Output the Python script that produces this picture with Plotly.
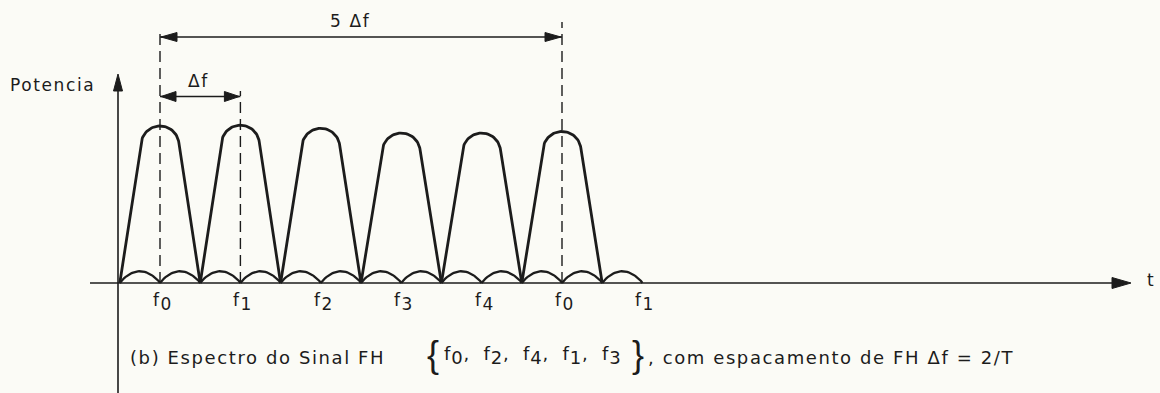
import numpy as np
import plotly.graph_objects as go

# ---------------- data ----------------
# hop carriers, position in units of the hop spacing Δf (f0 at 0)
carrier_pos = [0, 1, 2, 3, 4, 5]
# normalised main-lobe power at each carrier
carrier_peak = [1.00, 1.005, 0.985, 0.955, 0.955, 0.965]
# side-lobe arches (centre position, normalised power)
sidelobe_pos = [-0.25, 0.25, 0.75, 1.25, 1.75, 2.25, 2.75, 3.25, 3.75, 4.25, 4.75, 5.25, 5.75]
sidelobe_peak = [0.075, 0.075, 0.075, 0.075, 0.075, 0.075, 0.075,
                 0.075, 0.075, 0.075, 0.075, 0.075, 0.075]
# frequency tick labels along the axis
tick_pos = [0, 1, 2, 3, 4, 5, 6]
tick_sub = ["0", "1", "2", "3", "4", "0", "1"]
# hopping sequence quoted in the caption
hop_sequence = ["0", "2", "4", "1", "3"]
# dimension markers: (start, end) in Δf units
span_df = (0, 1)
span_5df = (0, 5)

# ---------------- frame geometry (pixels) ----------------
W_PX, H_PX = 1160, 393
X0_PX, PX_PER_X = 160.0, 80.4      # pixel column of f0, pixels per Δf
Y0_PX, PX_PER_Y = 283.0, 157.0     # pixel row of the frequency axis, pixels per power unit

INK = "#1c1c1c"
PAPER = "#fbfbf6"
FONT = "DejaVu Sans"


def dx(px):
    return (px - X0_PX) / PX_PER_X


def dy(py):
    return (Y0_PX - py) / PX_PER_Y


def main_lobe(c, h, half=0.5, r_px=19.0):
    """Rounded-top lobe with straight flanks, drawn in pixel space."""
    W = half * PX_PER_X
    H = h * PX_PER_Y
    r = r_px
    d = H - r
    a = W * W - r * r
    b = -2 * W * W * d
    cc = W * W * d * d - r * r * W * W
    A = (-b + np.sqrt(b * b - 4 * a * cc)) / (2 * a)
    L = np.hypot(A, W)
    tx, ty = r * A / L, d + r * W / L
    phi = np.arctan2(ty - d, tx)
    ang = np.linspace(np.pi - phi, phi, 40)
    xs = np.concatenate([[-W], r * np.cos(ang), [W]])
    ys = np.concatenate([[0], d + r * np.sin(ang), [0]])
    return c + xs / PX_PER_X, ys / PX_PER_Y


def side_lobe(c, h, half=0.25):
    v = np.linspace(0, 1, 30)
    return c - half + 2 * half * v, h * np.sin(np.pi * v) ** 0.8


def arrowhead(tip_px, direction, length=16, width=9):
    """Filled triangular arrowhead as an SVG path in data coordinates."""
    x, y = tip_px
    if direction == "right":
        pts = [(x, y), (x - length, y - width / 2), (x - length, y + width / 2)]
    elif direction == "left":
        pts = [(x, y), (x + length, y - width / 2), (x + length, y + width / 2)]
    else:  # up
        pts = [(x, y), (x - width / 2, y + length), (x + width / 2, y + length)]
    p = [f"{dx(px):.5f},{dy(py):.5f}" for px, py in pts]
    return dict(type="path", xref="x", yref="y", path=f"M{p[0]} L{p[1]} L{p[2]} Z",
                fillcolor=INK, line=dict(color=INK, width=1), layer="above")


fig = go.Figure()

# side-lobe row
sx, sy = [], []
for c, h in zip(sidelobe_pos, sidelobe_peak):
    x, y = side_lobe(c, h)
    sx += list(x) + [None]
    sy += list(y) + [None]
fig.add_trace(go.Scatter(x=sx, y=sy, mode="lines", line=dict(color=INK, width=2.3),
                         hoverinfo="skip", showlegend=False))

# main lobes
mx, my = [], []
for c, h in zip(carrier_pos, carrier_peak):
    x, y = main_lobe(c, h)
    mx += list(x) + [None]
    my += list(y) + [None]
fig.add_trace(go.Scatter(x=mx, y=my, mode="lines", line=dict(color=INK, width=2.8),
                         hoverinfo="skip", showlegend=False))

# frequency axis and power axis
ax_y = dx(118)
fig.add_trace(go.Scatter(x=[dx(90), dx(1118)], y=[0, 0], mode="lines",
                         line=dict(color=INK, width=1.7), hoverinfo="skip", showlegend=False))
fig.add_trace(go.Scatter(x=[ax_y, ax_y], y=[dy(H_PX + 5), dy(85)], mode="lines",
                         line=dict(color=INK, width=1.6), hoverinfo="skip", showlegend=False))

# dashed reference lines at f0, f1 and the repeated f0
dash_tops = {span_5df[0]: 28, span_df[1]: 91, span_5df[1]: 22}
for xc, top in dash_tops.items():
    fig.add_trace(go.Scatter(x=[xc, xc], y=[0, dy(top)], mode="lines",
                             line=dict(color=INK, width=1.4, dash="11px,6px"),
                             hoverinfo="skip", showlegend=False))

# dimension lines
y_5df = dy(37)
y_df = dy(96.5)
fig.add_trace(go.Scatter(x=[span_5df[0], span_5df[1]], y=[y_5df, y_5df], mode="lines",
                         line=dict(color=INK, width=1.5), hoverinfo="skip", showlegend=False))
fig.add_trace(go.Scatter(x=[span_df[0], span_df[1]], y=[y_df, y_df], mode="lines",
                         line=dict(color=INK, width=1.5), hoverinfo="skip", showlegend=False))

shapes = [
    arrowhead((X0_PX + PX_PER_X * span_5df[0] + 1, 37), "left"),
    arrowhead((X0_PX + PX_PER_X * span_5df[1] - 1, 37), "right"),
    arrowhead((X0_PX + PX_PER_X * span_df[0] + 1, 96.5), "left", 15, 10),
    arrowhead((X0_PX + PX_PER_X * span_df[1] - 1, 96.5), "right", 15, 10),
    arrowhead((1131, 283), "right", 19, 11),
    arrowhead((118, 74), "up", 17, 9),
]


def txt(s, x_px, y_px, size=18, xanchor="center", ls=1.6, family=FONT):
    return dict(x=dx(x_px), y=dy(y_px), xref="x", yref="y", showarrow=False,
                text=f'<span style="letter-spacing:{ls}px">{s}</span>',
                xanchor=xanchor, yanchor="middle",
                font=dict(family=family, size=size, color=INK))


def fsub(d, size=18):
    return f'f<sub><span style="font-size:{size}px">{d}</span></sub>'


annotations = [
    txt("Potencia", 97, 85, 17, "right"),
    txt("Δf", 198, 81, 17),
    txt("5 Δf", 350, 21, 17),
    txt("t", 1151, 280, 17),
]
for p, s in zip(tick_pos, tick_sub):
    annotations.append(txt(fsub(s, 17), X0_PX + PX_PER_X * p + 3, 302, 17))

# caption
annotations.append(txt("(b) Espectro do Sinal FH", 128, 357, 18, "left"))
annotations.append(txt("{", 433, 354, 36, family="Liberation Sans", ls=0))
annotations.append(txt("}", 638, 354, 36, family="Liberation Sans", ls=0))
hop_text = ",  ".join(fsub(s, 18) for s in hop_sequence)
annotations.append(txt(hop_text, 442, 355, 18, "left", ls=0.9))
annotations.append(txt(", com espacamento de FH Δf = 2/T", 646, 357, 18, "left"))

fig.update_layout(
    width=W_PX, height=H_PX,
    margin=dict(l=0, r=0, t=0, b=0),
    paper_bgcolor=PAPER, plot_bgcolor=PAPER,
    xaxis=dict(range=[dx(0), dx(W_PX)], visible=False, fixedrange=True),
    yaxis=dict(range=[dy(H_PX), dy(0)], visible=False, fixedrange=True),
    shapes=shapes,
    annotations=annotations,
    showlegend=False,
)

fig.write_html("out.html")
